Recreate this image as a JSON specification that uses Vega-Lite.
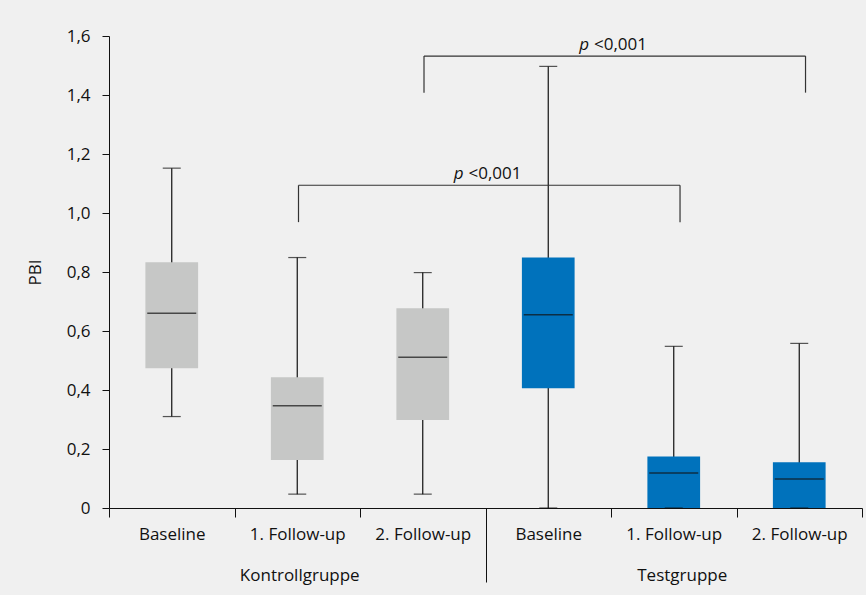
{
  "$schema": "https://vega.github.io/schema/vega-lite/v6.json",
  "width": 753,
  "height": 472,
  "autosize": {"type": "none"},
  "padding": {"left": 109, "top": 36, "right": 4, "bottom": 87},
  "background": "#f0f0f0",
  "config": {
    "view": {"stroke": null},
    "font": "Open Sans",
    "axis": {"labelFont": "Open Sans", "titleFont": "Open Sans", "labelColor": "#111", "titleColor": "#111", "labelFontSize": 17, "titleFontSize": 17, "titleFontWeight": "normal", "domainColor": "#111", "tickColor": "#111", "grid": false}
  },
  "datasets": {
    "boxes": [
      {"key": "Kontrollgruppe|Baseline", "group": "Kontrollgruppe", "min": 0.31, "q1": 0.474, "median": 0.66, "q3": 0.833, "max": 1.152},
      {"key": "Kontrollgruppe|1. Follow-up", "group": "Kontrollgruppe", "min": 0.047, "q1": 0.163, "median": 0.347, "q3": 0.443, "max": 0.849},
      {"key": "Kontrollgruppe|2. Follow-up", "group": "Kontrollgruppe", "min": 0.047, "q1": 0.298, "median": 0.511, "q3": 0.677, "max": 0.798},
      {"key": "Testgruppe|Baseline", "group": "Testgruppe", "min": 0, "q1": 0.406, "median": 0.655, "q3": 0.849, "max": 1.497},
      {"key": "Testgruppe|1. Follow-up", "group": "Testgruppe", "min": 0, "q1": 0, "median": 0.119, "q3": 0.175, "max": 0.548},
      {"key": "Testgruppe|2. Follow-up", "group": "Testgruppe", "min": 0, "q1": 0, "median": 0.098, "q3": 0.155, "max": 0.558}
    ],
    "brackets": [
      {"from": "Kontrollgruppe|1. Follow-up", "to": "Testgruppe|1. Follow-up", "mid": "Testgruppe|Baseline", "top": 1.094, "bottom": 0.969, "p": "p", "label": "<0,001"},
      {"from": "Kontrollgruppe|2. Follow-up", "to": "Testgruppe|2. Follow-up", "mid": "Testgruppe|1. Follow-up", "top": 1.532, "bottom": 1.408, "p": "p", "label": "<0,001"}
    ],
    "groups": [
      {"group": "Kontrollgruppe"},
      {"group": "Testgruppe"}
    ]
  },
  "resolve": {"scale": {"x": "independent"}, "axis": {"x": "independent"}},
  "layer": [
    {
      "encoding": {
        "x": {
          "field": "key", "type": "nominal",
          "scale": {"domain": ["Kontrollgruppe|Baseline", "Kontrollgruppe|1. Follow-up", "Kontrollgruppe|2. Follow-up", "Testgruppe|Baseline", "Testgruppe|1. Follow-up", "Testgruppe|2. Follow-up"], "paddingInner": 0, "paddingOuter": 0},
          "axis": {"title": null, "orient": "bottom", "labelAngle": 0, "tickBand": "extent", "tickSize": 9, "labelPadding": 9, "labelExpr": "split(datum.value, '|')[1]"}
        }
      },
      "layer": [
        {
          "data": {"name": "boxes"},
          "mark": {"type": "rule", "color": "#111", "strokeWidth": 1.2},
          "encoding": {
            "y": {"field": "min", "type": "quantitative", "scale": {"domain": [0, 1.6], "nice": false}, "axis": {"title": "PBI", "values": [0, 0.2, 0.4, 0.6, 0.8, 1.0, 1.2, 1.4, 1.6], "tickSize": 7, "labelPadding": 12, "titlePadding": 22, "labelExpr": "datum.value == 0 ? '0' : replace(format(datum.value, '.1f'), '.', ',')"}},
            "y2": {"field": "max"}
          }
        },
        {
          "data": {"name": "boxes"},
          "mark": {"type": "bar", "width": {"band": 0.42}},
          "encoding": {
            "y": {"field": "q1", "type": "quantitative"},
            "y2": {"field": "q3"},
            "color": {"field": "group", "type": "nominal", "scale": {"domain": ["Kontrollgruppe", "Testgruppe"], "range": ["#c6c7c6", "#0072bc"]}, "legend": null}
          }
        },
        {
          "data": {"name": "boxes"},
          "mark": {"type": "tick", "color": "#111", "size": 18, "thickness": 1.2},
          "encoding": {"y": {"field": "min", "type": "quantitative"}}
        },
        {
          "data": {"name": "boxes"},
          "mark": {"type": "tick", "color": "#111", "size": 18, "thickness": 1.2},
          "encoding": {"y": {"field": "max", "type": "quantitative"}}
        },
        {
          "data": {"name": "boxes"},
          "mark": {"type": "tick", "color": "#111", "size": 49, "thickness": 1.5},
          "encoding": {"y": {"field": "median", "type": "quantitative"}}
        },
        {
          "data": {"name": "brackets"},
          "mark": {"type": "rule", "color": "#333", "strokeWidth": 1.2},
          "encoding": {
            "x": {"field": "from", "type": "nominal", "bandPosition": 0.51},
            "x2": {"field": "to", "bandPosition": 0.55},
            "y": {"field": "top", "type": "quantitative"}
          }
        },
        {
          "data": {"name": "brackets"},
          "mark": {"type": "rule", "color": "#333", "strokeWidth": 1.2},
          "encoding": {
            "x": {"field": "from", "type": "nominal", "bandPosition": 0.51},
            "y": {"field": "bottom", "type": "quantitative"},
            "y2": {"field": "top"}
          }
        },
        {
          "data": {"name": "brackets"},
          "mark": {"type": "rule", "color": "#333", "strokeWidth": 1.2},
          "encoding": {
            "x": {"field": "to", "type": "nominal", "bandPosition": 0.55},
            "y": {"field": "bottom", "type": "quantitative"},
            "y2": {"field": "top"}
          }
        },
        {
          "data": {"name": "brackets"},
          "mark": {"type": "text", "align": "left", "baseline": "alphabetic", "dx": -17, "dy": -6, "fontSize": 17, "color": "#111"},
          "encoding": {
            "x": {"field": "mid", "type": "nominal", "bandPosition": 0},
            "y": {"field": "top", "type": "quantitative"},
            "text": {"field": "label"}
          }
        },
        {
          "data": {"name": "brackets"},
          "mark": {"type": "text", "align": "right", "baseline": "alphabetic", "dx": -22, "dy": -6, "fontSize": 17, "fontStyle": "italic", "color": "#111"},
          "encoding": {
            "x": {"field": "mid", "type": "nominal", "bandPosition": 0},
            "y": {"field": "top", "type": "quantitative"},
            "text": {"field": "p"}
          }
        }
      ]
    },
    {
      "data": {"name": "groups"},
      "mark": {"type": "text", "text": ""},
      "encoding": {
        "x": {
          "field": "group", "type": "nominal",
          "scale": {"domain": ["Kontrollgruppe", "Testgruppe"], "paddingInner": 0, "paddingOuter": 0},
          "axis": {"title": null, "orient": "bottom", "domain": false, "labelAngle": 0, "tickBand": "extent", "tickSize": 74, "labelPadding": -15,
            "labelOffset": {"condition": {"test": "datum.value === 'Testgruppe'", "value": 8}, "value": 2},
            "tickOpacity": {"condition": {"test": "datum.value === 'Kontrollgruppe'", "value": 1}, "value": 0}}
        }
      }
    }
  ]
}
